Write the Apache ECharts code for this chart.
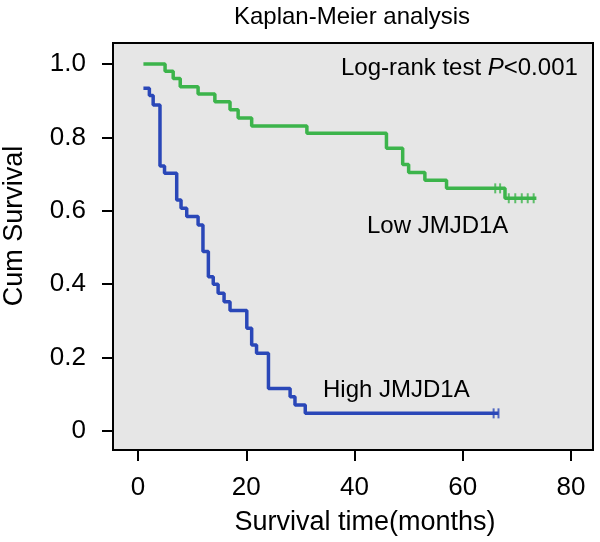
<!DOCTYPE html>
<html><head><meta charset="utf-8">
<script src="https://cdn.jsdelivr.net/npm/echarts@6/dist/echarts.min.js"></script>
<style>html,body{margin:0;padding:0;background:#fff}#c{width:600px;height:542px}</style>
</head><body><div id="c"></div>
<script>
// Low JMJD1A (green) step curve: event times (months) and survival after each step
const lowTimes = [1.0, 5.0, 6.5, 7.8, 11.1, 14.2, 17.0, 18.5, 21.0, 31.2, 45.9, 48.9, 50.0, 53.0, 57.0, 67.8, 73.6];
const lowSurv  = [1.0, 0.980, 0.960, 0.938, 0.918, 0.897, 0.875, 0.853, 0.831, 0.811, 0.770, 0.726, 0.704, 0.683, 0.661, 0.634, 0.634];
const lowCensorTimes = [66.0, 66.9, 68.5, 69.7, 70.9, 72.0, 73.1];
const lowCensorSurv  = [0.661, 0.661, 0.634, 0.634, 0.634, 0.634, 0.634];

// High JMJD1A (blue) step curve
const highTimes = [1.0, 2.1, 2.8, 4.06, 4.9, 7.15, 7.95, 9.0, 11.1, 12.0, 13.0, 13.9, 14.8, 15.9, 17.0, 20.1, 21.0, 21.9, 24.1, 28.1, 29.0, 30.9, 66.6];
const highSurv  = [0.934, 0.914, 0.888, 0.722, 0.702, 0.629, 0.607, 0.584, 0.561, 0.489, 0.420, 0.400, 0.375, 0.352, 0.328, 0.280, 0.234, 0.212, 0.116, 0.093, 0.071, 0.048, 0.048];
const highCensorTimes = [65.7, 66.6];
const highCensorSurv  = [0.048, 0.048];

const xTicks = [0, 20, 40, 60, 80];
const yTicks = [0, 0.2, 0.4, 0.6, 0.8, 1.0];

const titleText = 'Kaplan-Meier analysis';
const xName = 'Survival time(months)';
const yName = 'Cum Survival';
const lowName = 'Low JMJD1A';
const highName = 'High JMJD1A';

const GREEN = '#3cb44b';
const BLUE = '#2a47b8';
const FONT = '"Liberation Sans", Arial, sans-serif';

const pairs = (t, s) => t.map((v, i) => [v, s[i]]);

const chart = echarts.init(document.getElementById('c'), null, {renderer: 'canvas'});
chart.setOption({
  animation: false,
  backgroundColor: '#ffffff',
  grid: {left: 113, right: 7, top: 43, bottom: 92, show: true,
         backgroundColor: '#e6e6e6', borderColor: '#000', borderWidth: 2},
  xAxis: {
    type: 'value', min: -4.62, max: 84.06,
    axisLine: {show: true, onZero: false, lineStyle: {color: '#000', width: 2}},
    axisTick: {show: true, inside: false, length: 11, customValues: xTicks, lineStyle: {color: '#000', width: 2}},
    axisLabel: {customValues: xTicks, margin: 25, fontSize: 26, color: '#000', fontFamily: FONT,
                formatter: v => String(v)},
    splitLine: {show: false}
  },
  yAxis: {
    type: 'value', min: -0.0518, max: 1.057,
    axisLine: {show: true, onZero: false, lineStyle: {color: '#000', width: 2}},
    axisTick: {show: true, inside: false, length: 11, customValues: yTicks, lineStyle: {color: '#000', width: 2}},
    axisLabel: {customValues: yTicks, margin: 27, fontSize: 26, color: '#000', fontFamily: FONT,
                formatter: v => (Math.abs(v) < 1e-9 ? '0' : v.toFixed(1))},
    splitLine: {show: false}
  },
  series: [
    {type: 'line', name: lowName, step: 'end', data: pairs(lowTimes, lowSurv), showSymbol: false,
     lineStyle: {color: GREEN, width: 3.5}, z: 3},
    {type: 'line', name: highName, step: 'end', data: pairs(highTimes, highSurv), showSymbol: false,
     lineStyle: {color: BLUE, width: 3.5}, z: 3},
    {type: 'scatter', data: pairs(lowCensorTimes, lowCensorSurv), symbol: 'rect', symbolSize: [2, 10],
     itemStyle: {color: GREEN}, z: 4},
    {type: 'scatter', data: pairs(highCensorTimes, highCensorSurv), symbol: 'rect', symbolSize: [2, 10],
     itemStyle: {color: BLUE}, z: 4}
  ],
  graphic: [
    {type: 'text', x: 352, y: 17, style: {text: titleText, fontSize: 24, fontFamily: FONT, fill: '#000',
      textAlign: 'center', textVerticalAlign: 'middle', align: 'center', verticalAlign: 'middle'}},
    {type: 'text', x: 365, y: 523, style: {text: xName, fontSize: 27, fontFamily: FONT, fill: '#000',
      textAlign: 'center', textVerticalAlign: 'middle', align: 'center', verticalAlign: 'middle'}},
    {type: 'text', x: 15, y: 226, rotation: Math.PI / 2, style: {text: yName, fontSize: 27, fontFamily: FONT, fill: '#000',
      textAlign: 'center', textVerticalAlign: 'middle', align: 'center', verticalAlign: 'middle'}},
    {type: 'text', x: 341, y: 68, z: 10, style: {
      text: '{a|Log-rank test }{b|P}{a|<0.001}', fontSize: 24, fontFamily: FONT, fill: '#000',
      textAlign: 'left', textVerticalAlign: 'middle', align: 'left', verticalAlign: 'middle',
      rich: {a: {fontSize: 24, fontFamily: FONT, fill: '#000'}, b: {fontSize: 24, fontFamily: FONT, fill: '#000', fontStyle: 'italic'}}}},
    {type: 'text', x: 367, y: 226, z: 10, style: {text: lowName, fontSize: 24, fontFamily: FONT, fill: '#000',
      textAlign: 'left', textVerticalAlign: 'middle', align: 'left', verticalAlign: 'middle'}},
    {type: 'text', x: 323, y: 390, z: 10, style: {text: highName, fontSize: 24, fontFamily: FONT, fill: '#000',
      textAlign: 'left', textVerticalAlign: 'middle', align: 'left', verticalAlign: 'middle'}}
  ]
});
</script>
</body></html>
